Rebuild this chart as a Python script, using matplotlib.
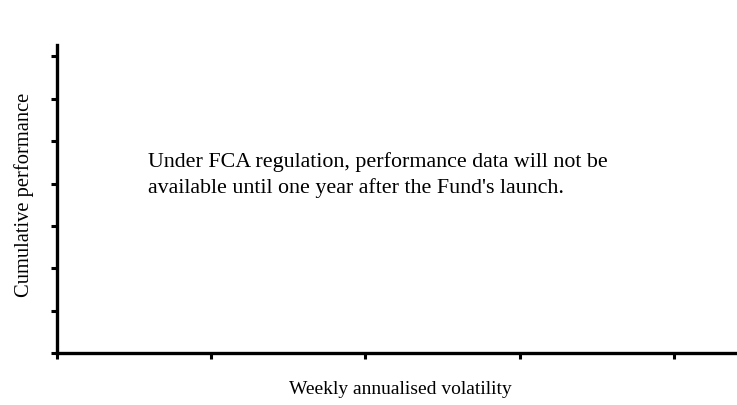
import matplotlib
matplotlib.use("Agg")
import matplotlib.pyplot as plt

# Chart content (no data series: performance not yet available)
x_ticks = [0, 1, 2, 3, 4]
y_ticks = [0, 1, 2, 3, 4, 5, 6, 7]
x_limits = [0, 4.41]
y_limits = [0, 7.27]
x_label = "Weekly annualised volatility"
y_label = "Cumulative performance"
message = ("Under FCA regulation, performance data will not be\n"
           "available until one year after the Fund's launch.")

plt.rcParams['font.family'] = ['Liberation Serif', 'DejaVu Serif']

W, H = 737, 405
fig = plt.figure(figsize=(W/100, H/100), dpi=100)
ax = fig.add_axes([57/W, (H-353)/H, 1 - 57/W, (353-45)/H])

ax.set_xlim(*x_limits)
ax.set_ylim(*y_limits)
ax.set_xticks(x_ticks)
ax.set_yticks(y_ticks)
ax.set_xticklabels([])
ax.set_yticklabels([])

for s in ['top', 'right']:
    ax.spines[s].set_visible(False)
for s in ['left', 'bottom']:
    ax.spines[s].set_linewidth(2.4)
    ax.spines[s].set_color('black')
    ax.spines[s].set_capstyle('projecting')

ax.tick_params(axis='both', direction='out', length=4, width=2.2, color='black')

fig.text(400/W, 1 - 390/H, x_label, fontsize=14, ha='center', va='center')
fig.text(24/W, 1 - 195/H, y_label, fontsize=14.8, ha='center', va='center',
         rotation=90)

fig.text(148/W, 1 - 175/H, message, fontsize=15.8,
         ha='left', va='center', linespacing=1.38)

fig.savefig("out.png", dpi=100)
